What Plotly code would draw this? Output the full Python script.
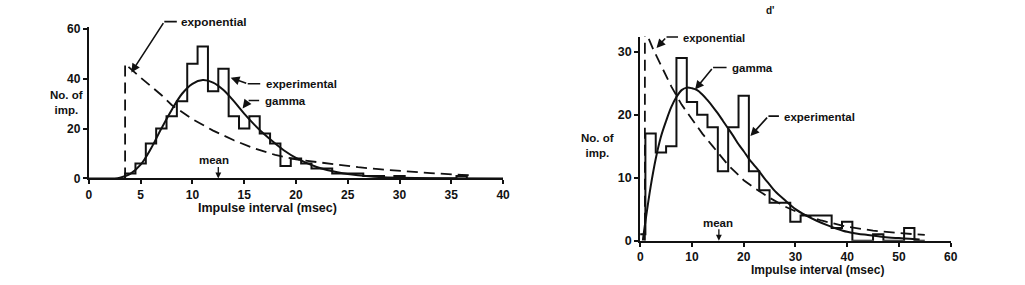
import plotly.graph_objects as go

# ---------------- data: left panel ----------------
left_bin_centers = list(range(4, 37))
left_counts = [2, 6, 14, 20, 25, 31, 46, 53, 35, 44, 25, 20, 25, 18, 14, 5, 8, 6, 4, 4,
               2, 2, 2, 1, 1, 0, 1, 0, 0, 0, 0, 0, 1]
left_gamma_x = [0, 2.5, 3, 4, 5, 6, 7, 8, 9, 10, 11, 12, 13, 14, 15, 16, 17, 18, 19, 20,
                21, 22, 23, 24, 25, 26, 27, 28, 30, 33, 40]
left_gamma_y = [0, 0, 0.3, 1.8, 5.5, 12, 20, 27.5, 34, 38, 39.5, 38.5, 35.5, 31, 26, 21.5,
                17.5, 14, 10.8, 8.2, 6.2, 4.6, 3.4, 2.5, 1.8, 1.3, 0.9, 0.6, 0.3, 0.1, 0]
left_exp_x = [3.5, 3.5, 5, 6, 7, 8, 9, 10, 12, 14, 16, 18, 20, 22, 24, 26, 28, 30, 33, 36, 37]
left_exp_y = [0, 46, 40.5, 37, 33.5, 29.5, 26.5, 23.8, 19.2, 15.3, 12, 9.4, 7.6, 6.5, 5.5,
              4.5, 3.7, 3, 2.1, 1.4, 1.2]
left_mean = 12.5

# ---------------- data: right panel ----------------
right_bin_centers = list(range(0, 56, 2))
right_counts = [1, 17, 14, 15, 29, 22, 20, 18, 11, 18, 23, 11, 8, 6, 6, 3, 4, 4, 4, 2,
                3, 0, 0, 1, 0, 0, 2, 0]
right_gamma_x = [0.5, 1, 2, 3, 4, 5, 6, 7, 8, 9, 10, 11, 12, 13, 14, 15, 16, 17, 18, 19,
                 20, 21, 22, 23, 24, 25, 26, 28, 30, 32, 34, 36, 38, 40, 42, 44, 46, 48,
                 50, 52, 54]
right_gamma_y = [0, 3, 8.5, 13, 16.5, 19, 21.2, 22.8, 23.9, 24.3, 24.2, 23.9, 23.2, 22.3,
                 21.3, 20.2, 19, 17.8, 16.6, 15.3, 14.2, 13, 12, 11, 9.9, 8.9, 7.9, 6.4,
                 5, 4, 3.2, 2.5, 1.9, 1.4, 1.1, 0.9, 0.7, 0.5, 0.4, 0.3, 0.2]
right_exp_x = [0.9, 0.9, 2.5, 4, 6, 8, 10, 12, 14, 17, 20, 22, 25, 28, 31, 35, 40, 45, 50, 55]
right_exp_y = [0, 33.5, 30.4, 27.8, 24.5, 21.6, 19.2, 17, 15, 12, 9.6, 8.4, 6.8, 5.4, 4.3,
               3.2, 2.2, 1.6, 1.2, 0.9]
right_mean = 15.2

left_xticks = [0, 5, 10, 15, 20, 25, 30, 35, 40]
left_yticks = [0, 20, 40, 60]
right_xticks = [0, 10, 20, 30, 40, 50, 60]
right_yticks = [0, 10, 20, 30]

W, H = 1025, 285
FONT = "Liberation Sans"
INK = "#111111"


def step_outline(centers, counts, width):
    xs = [centers[0] - width / 2]
    ys = [0]
    for c, n in zip(centers, counts):
        xs.append(c - width / 2)
        ys.append(n)
    xs.append(centers[-1] + width / 2)
    ys.append(0)
    return xs, ys


fig = go.Figure()

lx, ly = step_outline(left_bin_centers, left_counts, 1)
rx, ry = step_outline(right_bin_centers, right_counts, 2)

line_dash = dict(color=INK, width=1.8, dash="11px,6px")

fig.add_trace(go.Scatter(x=lx, y=ly, mode="lines", line=dict(color=INK, width=2, shape="hv"),
                         xaxis="x", yaxis="y", showlegend=False))
fig.add_trace(go.Scatter(x=left_gamma_x, y=left_gamma_y, mode="lines",
                         line=dict(color=INK, width=2, shape="spline"),
                         xaxis="x", yaxis="y", showlegend=False))
fig.add_trace(go.Scatter(x=left_exp_x, y=left_exp_y, mode="lines", line=line_dash,
                         xaxis="x", yaxis="y", showlegend=False))

fig.add_trace(go.Scatter(x=rx, y=ry, mode="lines", line=dict(color=INK, width=2, shape="hv"),
                         xaxis="x2", yaxis="y2", showlegend=False))
fig.add_trace(go.Scatter(x=right_gamma_x, y=right_gamma_y, mode="lines",
                         line=dict(color=INK, width=2, shape="spline"),
                         xaxis="x2", yaxis="y2", showlegend=False))
fig.add_trace(go.Scatter(x=right_exp_x, y=right_exp_y, mode="lines", line=line_dash,
                         xaxis="x2", yaxis="y2", showlegend=False))


def px2paper(px, py):
    return px / W, 1 - py / H


def axis_common(size):
    return dict(showgrid=False, zeroline=False, showline=True, linecolor=INK, linewidth=2,
                ticks="outside", ticklen=4, tickwidth=1.5, tickcolor=INK,
                tickfont=dict(family=FONT, size=size, color=INK, weight="bold"),
                fixedrange=True)


lx0, lx1 = 86.7 / W, 505 / W
ly0, ly1 = (H - 181) / H, (H - 23) / H
rx0, rx1 = 643.5 / W, 957 / W
ry0, ry1 = (H - 246) / H, (H - 33) / H

fig.update_layout(
    width=W, height=H, margin=dict(l=0, r=0, t=0, b=0),
    paper_bgcolor="white", plot_bgcolor="white",
    xaxis=dict(domain=[lx0, lx1], range=[0, 40], tickvals=left_xticks, anchor="y", **axis_common(12)),
    yaxis=dict(domain=[ly0, ly1], range=[0, 60.8], tickvals=left_yticks, anchor="x", **axis_common(12)),
    xaxis2=dict(domain=[rx0, rx1], range=[0, 60], tickvals=right_xticks, anchor="y2", **axis_common(12)),
    yaxis2=dict(domain=[ry0, ry1], range=[0, 32.4], tickvals=right_yticks, anchor="x2", **axis_common(12.5)),
)

annots = []


def text_at(px, py, s, xanchor="left", size=11.5):
    x, y = px2paper(px, py)
    annots.append(dict(x=x, y=y, xref="paper", yref="paper", text=s, showarrow=False,
                       xanchor=xanchor, yanchor="middle",
                       font=dict(family=FONT, size=size, color=INK, weight="bold")))


def leader(xr, yr, tipx, tipy, ax, ay, seg):
    annots.append(dict(x=tipx, y=tipy, xref=xr, yref=yr, ax=ax, ay=ay, text="",
                       showarrow=True, arrowhead=2, arrowsize=1.1,
                       arrowwidth=1.6, arrowcolor=INK, standoff=0, startstandoff=0))
    annots.append(dict(x=tipx, y=tipy, xref=xr, yref=yr, xshift=ax, yshift=-ay, ax=seg, ay=0,
                       text="", showarrow=True, arrowhead=0, arrowwidth=1.6, arrowcolor=INK,
                       standoff=0, startstandoff=0))


# left panel labels
leader("x", "y", 4.1, 42.5, 33, -51, 14)
text_at(178, 18, "exponential", size=11.8)
leader("x", "y", 13.7, 40.4, 17, 6, 14)
text_at(264, 82, "experimental")
leader("x", "y", 14.85, 28.1, 6, -8, 12)
text_at(263, 100, "gamma")

# right panel labels
leader("x2", "y2", 3.15, 30.6, 10, -11, 13)
text_at(685, 34, "exponential", size=11.2)
leader("x2", "y2", 10.6, 24.0, 18, -22, 15)
text_at(734, 66, "gamma")
leader("x2", "y2", 21.3, 16.6, 18, -20, 12)
text_at(787, 117, "experimental")

# mean arrows
for xr, yr, m in (("x", "y", left_mean), ("x2", "y2", right_mean)):
    annots.append(dict(x=m, y=0, xref=xr, yref=yr, ax=0, ay=-13, text="", showarrow=True,
                       arrowhead=2, arrowsize=0.9, arrowwidth=1.3, arrowcolor=INK,
                       standoff=0))
text_at(213, 162, "mean", xanchor="center")
text_at(722, 228, "mean", xanchor="center")

# axis titles
text_at(64, 102, "No. of<br>imp.", xanchor="center")
text_at(600, 147, "No. of<br>imp.", xanchor="center")
text_at(267, 212, "Impulse interval (msec)", xanchor="center", size=12.5)
text_at(823, 277, "Impulse interval (msec)", xanchor="center", size=12)

# panel letter at top
text_at(775, 6, "d'", xanchor="center", size=10)

fig.update_layout(annotations=annots)

fig.write_html("out.html")
